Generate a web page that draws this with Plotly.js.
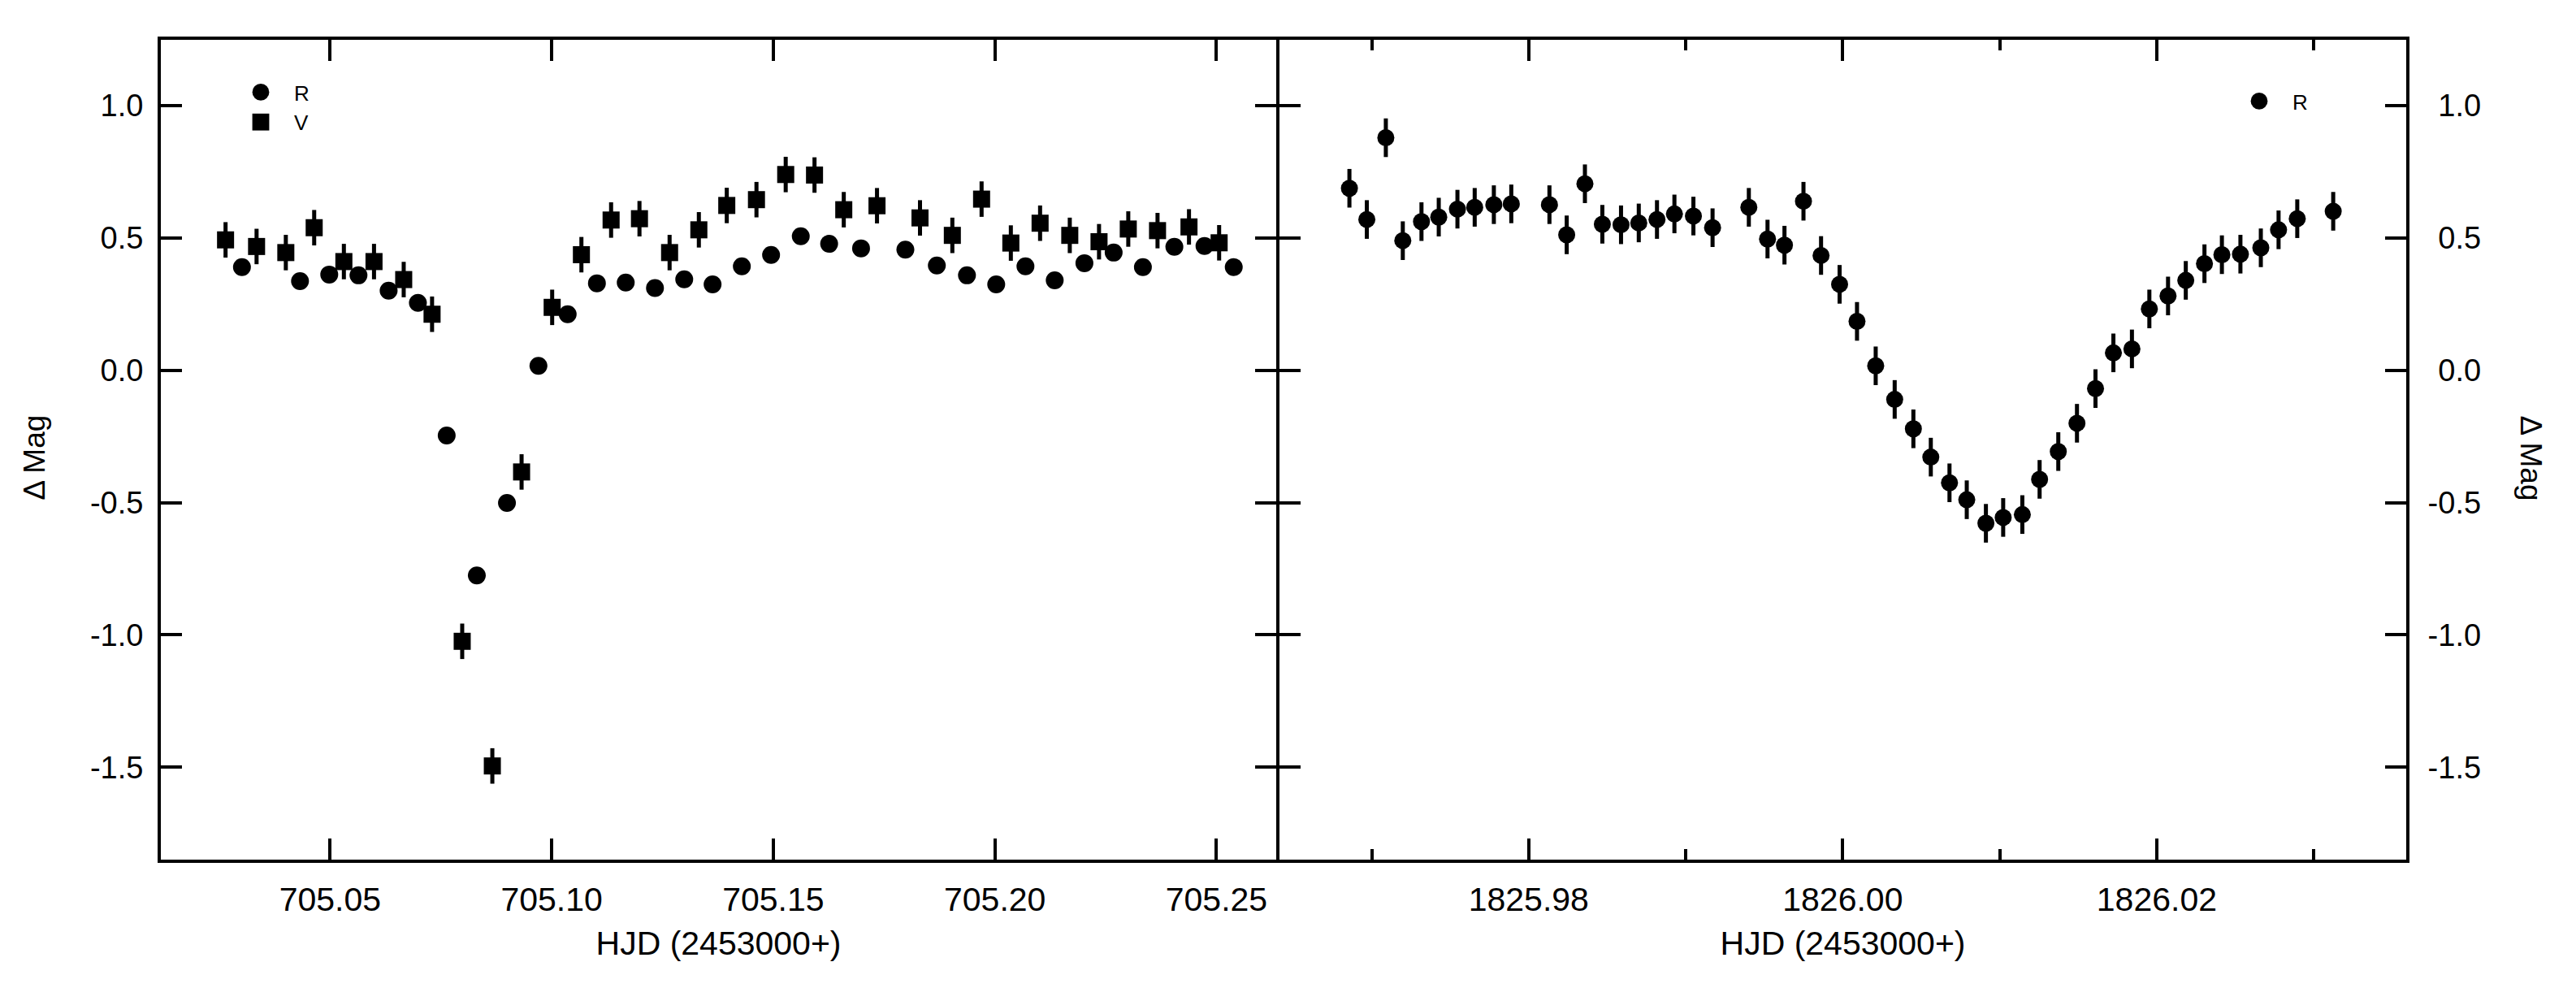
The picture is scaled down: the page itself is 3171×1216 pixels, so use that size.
<!DOCTYPE html>
<html>
<head>
<meta charset="utf-8">
<script src="https://cdn.plot.ly/plotly-3.0.1.min.js"></script>
<style>
  html, body { margin: 0; padding: 0; background: #ffffff; }
  #chart { width: 3171px; height: 1216px; }
</style>
</head>
<body>
<div id="chart"></div>
<script>
// ---- Left panel: HJD 2453705 night, V and R photometry ----
const vTime = [705.0264, 705.0334, 705.0400, 705.0464, 705.0531, 705.0599, 705.0666, 705.0730,
  705.0798, 705.0866, 705.0932, 705.1001, 705.1067, 705.1134, 705.1198, 705.1266, 705.1332,
  705.1395, 705.1462, 705.1528, 705.1593, 705.1659, 705.1734, 705.1831, 705.1904, 705.1970,
  705.2036, 705.2102, 705.2169, 705.2235, 705.2301, 705.2367, 705.2438, 705.2506];
const vMag = [0.493, 0.468, 0.445, 0.539, 0.411, 0.411, 0.343, 0.212,
  -1.024, -1.495, -0.384, 0.238, 0.437, 0.568, 0.573, 0.445, 0.531,
  0.623, 0.645, 0.740, 0.738, 0.607, 0.622, 0.576, 0.510, 0.647,
  0.481, 0.556, 0.510, 0.486, 0.534, 0.528, 0.542, 0.482];
const vErr = 0.067;

const rTimeLeft = [705.0301, 705.0432, 705.0498, 705.0564, 705.0632, 705.0698, 705.0763, 705.0831,
  705.0899, 705.0970, 705.1036, 705.1102, 705.1167, 705.1233, 705.1299, 705.1363, 705.1429,
  705.1495, 705.1562, 705.1626, 705.1698, 705.1798, 705.1869, 705.1937, 705.2003, 705.2069,
  705.2135, 705.2202, 705.2268, 705.2334, 705.2405, 705.2473, 705.2539];
const rMagLeft = [0.390, 0.337, 0.362, 0.359, 0.301, 0.255, -0.246, -0.775,
  -0.501, 0.017, 0.212, 0.329, 0.332, 0.311, 0.344, 0.325, 0.393,
  0.436, 0.507, 0.478, 0.461, 0.456, 0.396, 0.359, 0.325, 0.393,
  0.340, 0.405, 0.445, 0.390, 0.467, 0.470, 0.390];

// ---- Right panel: R photometry ----
const rTimeRight = [1825.96858, 1825.96969, 1825.97090, 1825.97198, 1825.97317, 1825.97427,
  1825.97546, 1825.97656, 1825.97778, 1825.97889, 1825.98132, 1825.98242, 1825.98358,
  1825.98469, 1825.98588, 1825.98701, 1825.98817, 1825.98928, 1825.99049, 1825.99171,
  1825.99402, 1825.99521, 1825.99629, 1825.99750, 1825.99862, 1825.99980, 1826.00091,
  1826.00210, 1826.00331, 1826.00450, 1826.00561, 1826.00680, 1826.00790, 1826.00912,
  1826.01022, 1826.01144, 1826.01254, 1826.01373, 1826.01492, 1826.01610, 1826.01724,
  1826.01842, 1826.01953, 1826.02072, 1826.02185, 1826.02304, 1826.02415, 1826.02533,
  1826.02663, 1826.02776, 1826.02895, 1826.03124];
const rMagRight = [0.688, 0.570, 0.879, 0.490, 0.562, 0.579,
  0.609, 0.616, 0.626, 0.629, 0.626, 0.512, 0.705,
  0.552, 0.550, 0.557, 0.570, 0.591, 0.583, 0.539,
  0.616, 0.496, 0.473, 0.639, 0.434, 0.325, 0.185,
  0.017, -0.110, -0.221, -0.328, -0.425, -0.489, -0.578,
  -0.556, -0.545, -0.412, -0.307, -0.200, -0.069, 0.066,
  0.081, 0.232, 0.281, 0.340, 0.403, 0.437, 0.439,
  0.463, 0.531, 0.573, 0.601];
const rErrRight = 0.073;

// ---- Axes ticks ----
const yTickVals = [-1.5, -1.0, -0.5, 0.0, 0.5, 1.0];
const yTickText = ['-1.5', '-1.0', '-0.5', '0.0', '0.5', '1.0'];
const xLeftTickVals = [705.05, 705.10, 705.15, 705.20, 705.25];
const xLeftTickText = ['705.05', '705.10', '705.15', '705.20', '705.25'];
const xRightTickVals = [1825.98, 1826.00, 1826.02];
const xRightTickText = ['1825.98', '1826.00', '1826.02'];
const xRightMinorVals = [1825.97, 1825.99, 1826.01, 1826.03];

const yRange = [-1.849, 1.249];
const xLeftRange = [705.0118, 705.2635];
const xRightRange = [1825.96413, 1826.03589];

const FONT = 'Liberation Sans, Arial, Helvetica, sans-serif';
const BLACK = '#000000';

const traces = [
  {
    x: rTimeLeft, y: rMagLeft, name: 'R', type: 'scatter', mode: 'markers',
    xaxis: 'x', yaxis: 'y', legend: 'legend',
    marker: { symbol: 'circle', size: 22, color: BLACK }
  },
  {
    x: vTime, y: vMag, name: 'V', type: 'scatter', mode: 'markers',
    xaxis: 'x', yaxis: 'y', legend: 'legend',
    marker: { symbol: 'square', size: 21, color: BLACK },
    error_y: { type: 'constant', value: vErr, color: BLACK, thickness: 5, width: 0 }
  },
  {
    x: rTimeRight, y: rMagRight, name: 'R', type: 'scatter', mode: 'markers',
    xaxis: 'x2', yaxis: 'y2', legend: 'legend2',
    marker: { symbol: 'circle', size: 21, color: BLACK },
    error_y: { type: 'constant', value: rErrRight, color: BLACK, thickness: 5, width: 0 }
  }
];

const axisCommon = {
  showline: true, linecolor: BLACK, linewidth: 4,
  ticks: 'inside', ticklen: 26, tickwidth: 4, tickcolor: BLACK,
  mirror: 'ticks', showgrid: false, zeroline: false,
  tickmode: 'array', automargin: false
};

const PLOT_W = 2764;
const SPLIT = 0.4975;

const layout = {
  width: 3171, height: 1216,
  margin: { l: 198, r: 209, t: 49, b: 158, pad: 0, autoexpand: false },
  paper_bgcolor: '#ffffff', plot_bgcolor: '#ffffff',
  font: { family: FONT, color: BLACK, size: 38 },
  showlegend: true,
  xaxis: Object.assign({}, axisCommon, {
    domain: [0, SPLIT - 2 / PLOT_W], anchor: 'y', range: xLeftRange,
    tickvals: xLeftTickVals, ticktext: xLeftTickText,
    tickfont: { family: FONT, size: 41, color: BLACK },
    ticklabelstandoff: 10,
    title: { text: 'HJD (2453000+)', font: { family: FONT, size: 41, color: BLACK }, standoff: 18 }
  }),
  yaxis: Object.assign({}, axisCommon, {
    domain: [0, 1], anchor: 'x', range: yRange,
    tickvals: yTickVals, ticktext: yTickText,
    tickfont: { family: FONT, size: 38, color: BLACK },
    ticklabelstandoff: 10
  }),
  xaxis2: Object.assign({}, axisCommon, {
    domain: [SPLIT + 2 / PLOT_W, 1], anchor: 'y2', range: xRightRange,
    tickvals: xRightTickVals, ticktext: xRightTickText,
    tickfont: { family: FONT, size: 41, color: BLACK },
    ticklabelstandoff: 10,
    minor: { tickmode: 'array', tickvals: xRightMinorVals, ticks: 'inside', ticklen: 13, tickwidth: 4, tickcolor: BLACK, showgrid: false },
    title: { text: 'HJD (2453000+)', font: { family: FONT, size: 41, color: BLACK }, standoff: 18 }
  }),
  yaxis2: Object.assign({}, axisCommon, {
    domain: [0, 1], anchor: 'x2', side: 'right', range: yRange,
    tickvals: yTickVals,
    ticktext: yTickText.map(t => (t.charAt(0) === '-' ? t : '\u2004' + t)),
    tickfont: { family: FONT, size: 38, color: BLACK },
    ticklabelstandoff: 15
  }),
  legend: {
    xref: 'paper', yref: 'paper',
    x: 82 / PLOT_W, y: (1058 - 90) / 1009, xanchor: 'left', yanchor: 'top',
    bgcolor: 'rgba(0,0,0,0)', borderwidth: 0,
    font: { family: FONT, size: 26, color: BLACK },
    itemwidth: 72
  },
  legend2: {
    xref: 'paper', yref: 'paper',
    x: 2542 / PLOT_W, y: (1058 - 101) / 1009, xanchor: 'left', yanchor: 'top',
    bgcolor: 'rgba(0,0,0,0)', borderwidth: 0,
    font: { family: FONT, size: 26, color: BLACK },
    itemwidth: 72
  },
  annotations: [
    {
      text: '\u0394 Mag', textangle: -90, showarrow: false,
      xref: 'paper', yref: 'paper', x: (43 - 198) / PLOT_W, y: 0.49,
      xanchor: 'center', yanchor: 'middle',
      font: { family: FONT, size: 37, color: BLACK }
    },
    {
      text: '\u0394 Mag', textangle: 90, showarrow: false,
      xref: 'paper', yref: 'paper', x: (3115 - 198) / PLOT_W, y: 0.49,
      xanchor: 'center', yanchor: 'middle',
      font: { family: FONT, size: 37, color: BLACK }
    }
  ]
};

Plotly.newPlot('chart', traces, layout, { staticPlot: true, displayModeBar: false }).then(function (gd) {
  // legend symbols are capped at 16 px by Plotly; enlarge them to match the plot markers
  gd.querySelectorAll('.legendpoints path.scatterpts').forEach(function (p) {
    var t = p.getAttribute('transform') || '';
    p.setAttribute('transform', t + ' scale(1.3)');
  });
});
</script>
</body>
</html>
